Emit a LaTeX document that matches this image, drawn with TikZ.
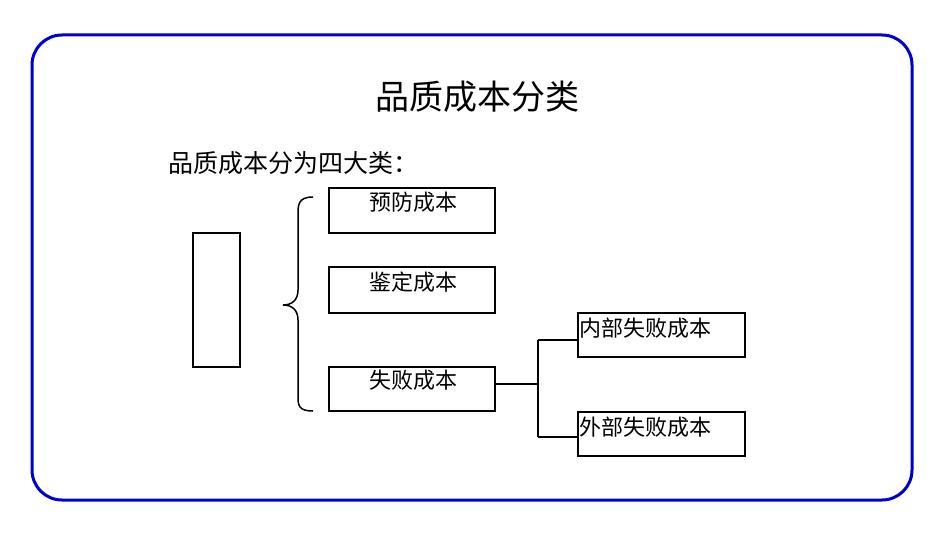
\documentclass[tikz,border=0pt]{standalone}
\usepackage{fontspec}
\newfontfamily\cjk{Noto Sans CJK SC}
\begin{document}
\begin{tikzpicture}[x=1pt,y=-1pt,
  box/.style={draw,line width=1.5pt},
  lbl/.style={font=\cjk\fontsize{22}{22}\selectfont,anchor=north,inner sep=0pt},
  conn/.style={line width=1.5pt}]
\useasboundingbox (0,0) rectangle (950,535);
\draw[blue!80!black,line width=3pt,rounded corners=30pt] (32,35) rectangle (912,500);
\node[font=\cjk\fontsize{34}{34}\selectfont] (title) at (477,97) {品质成本分类};
\node[font=\cjk\fontsize{25}{25}\selectfont,anchor=west,inner sep=0pt] (sub) at (168,163) {品质成本分为四大类：};
\draw[box] (193,233) rectangle (240,367);
\draw[box] (329,188) rectangle (495,233);
\node[lbl] (ta) at (413,192) {预防成本};
\draw[box] (329,267) rectangle (495,313);
\node[lbl] (tb) at (413,272) {鉴定成本};
\draw[box] (329,367) rectangle (495,411);
\node[lbl] (tc) at (413,370) {失败成本};
\draw[box] (578,313) rectangle (745,357);
\node[lbl,anchor=north west] (td) at (579,318) {内部失败成本};
\draw[box] (578,412) rectangle (745,456);
\node[lbl,anchor=north west] (te) at (579,417) {外部失败成本};
\coordinate (f) at (495,384);
\coordinate (j) at (538,384);
\draw[conn] (f) -- (j);
\draw[conn] (538,340) -- (538,437);
\draw[conn] (538,340) -- (578,340);
\draw[conn] (538,437) -- (578,437);
\draw[line width=1.5pt] (313,197) .. controls (298,197) and (298,205) .. (298,215)
  -- (298,290) .. controls (298,300) and (292,305) .. (283,305)
  .. controls (292,305) and (298,310) .. (298,320)
  -- (298,395) .. controls (298,405) and (298,411) .. (313,411);
\end{tikzpicture}
\end{document}
